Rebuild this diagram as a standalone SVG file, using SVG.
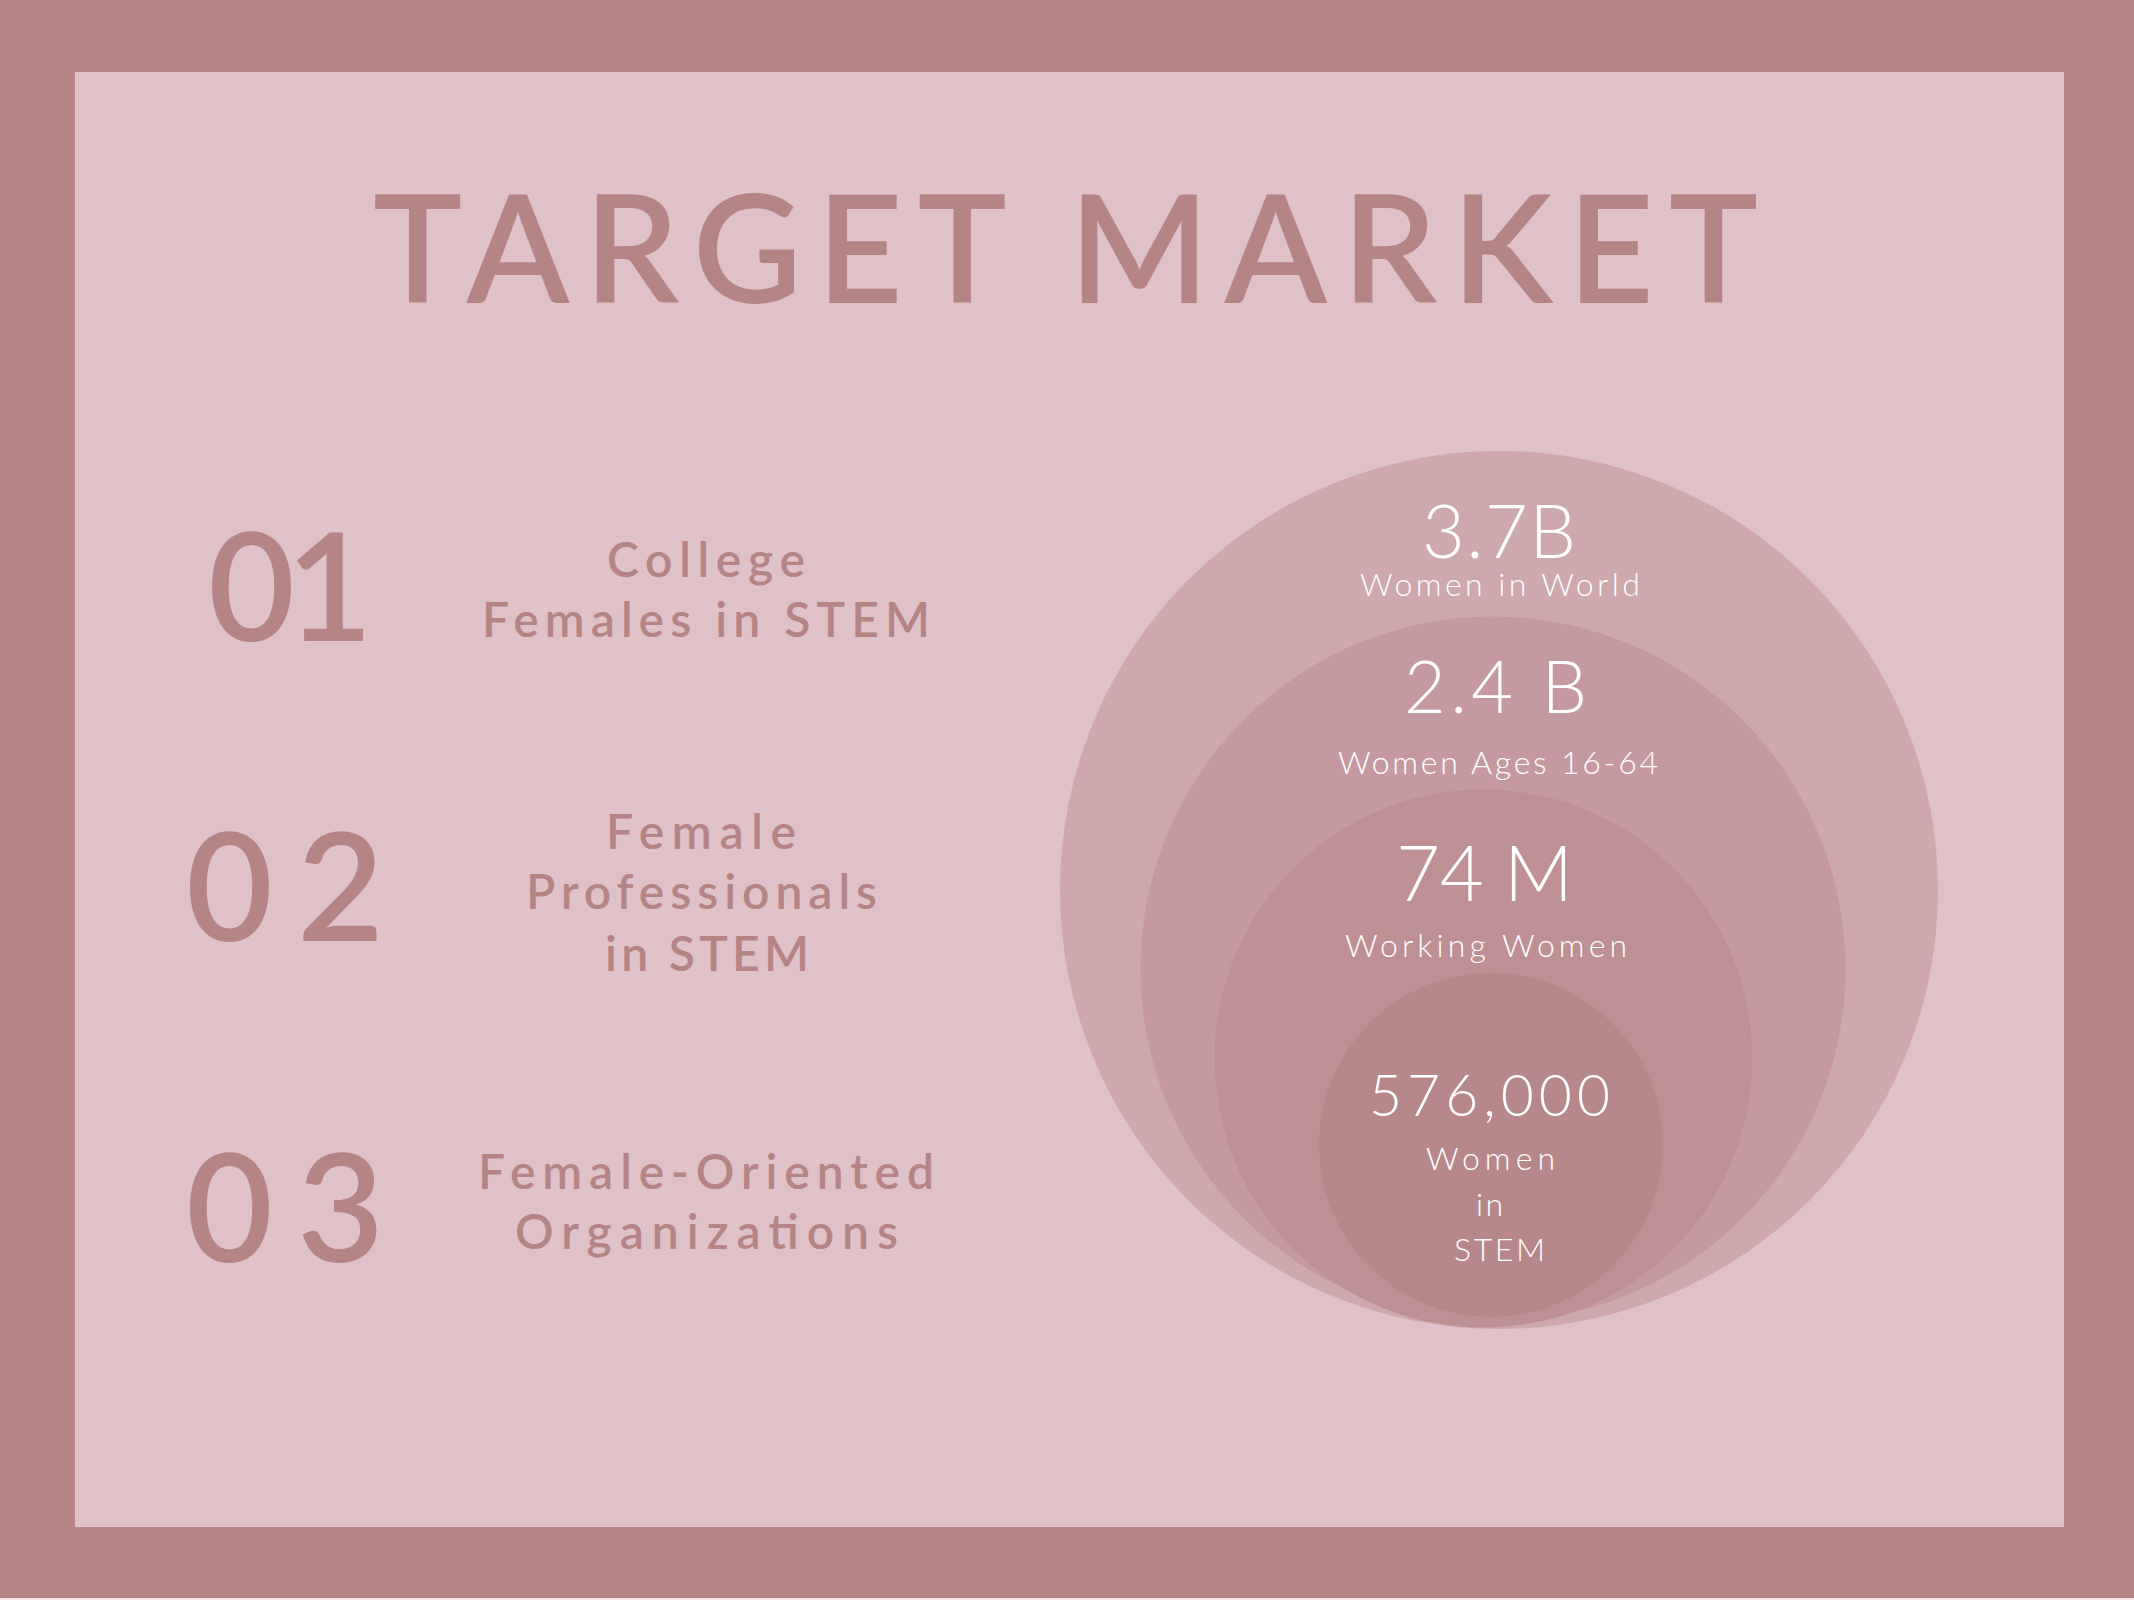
<svg xmlns="http://www.w3.org/2000/svg" width="2134" height="1600" viewBox="0 0 2134 1600">
<style>
.title{font-family:Lato,"Noto Sans","DejaVu Sans",sans-serif;font-weight:600;fill:#b48584;font-size:150px}
.num{font-family:Lato,"Noto Sans","DejaVu Sans",sans-serif;font-weight:600;fill:#b48584;font-size:150px}
.lab{font-family:Lato,"Noto Sans","DejaVu Sans",sans-serif;font-weight:600;fill:#b48584;font-size:48px}
.big{font-family:Lato,"Noto Sans","DejaVu Sans",sans-serif;font-weight:300;fill:#ffffff}
.sm{font-family:Lato,"Noto Sans","DejaVu Sans",sans-serif;font-weight:300;fill:#ffffff;font-size:32px}
</style>
<rect x="0" y="0" width="2134" height="1600" fill="#b48584"/>
<rect x="0" y="1598" width="2134" height="2" fill="#f3e9eb"/>
<rect x="75" y="72" width="1989" height="1455" fill="#dfc1c8"/>
<g id="title"><text class="title" x="373" y="303" textLength="1385" lengthAdjust="spacing">TARGET MARKET</text></g>
<g id="item1">
<text class="num" x="208" y="641" textLength="165" lengthAdjust="spacing">01</text>
<text class="lab" x="607" y="577" textLength="198" lengthAdjust="spacing">College</text>
<text class="lab" x="482" y="637" textLength="448" lengthAdjust="spacing">Females in STEM</text>
</g>
<g id="item2">
<text class="num" x="186" y="941" textLength="198" lengthAdjust="spacing">02</text>
<text class="lab" x="606" y="849" textLength="190" lengthAdjust="spacing">Female</text>
<text class="lab" x="526" y="909" textLength="351" lengthAdjust="spacing">Professionals</text>
<text class="lab" x="605" y="971" textLength="204" lengthAdjust="spacing">in STEM</text>
</g>
<g id="item3">
<text class="num" x="186" y="1262" textLength="198" lengthAdjust="spacing">03</text>
<text class="lab" x="478" y="1189" textLength="456" lengthAdjust="spacing">Female-Oriented</text>
<text class="lab" x="515" y="1249" textLength="383" lengthAdjust="spacing">Organizations</text>
</g>
<g id="circle-world">
<circle cx="1499" cy="890" r="439" fill="#cda8ad"/>
</g>
<g id="circle-ages">
<circle cx="1493" cy="969" r="352.5" fill="#c49aa0"/>
</g>
<g id="circle-working">
<circle cx="1483.5" cy="1058.5" r="269" fill="#bd9093"/>
</g>
<g id="circle-stem">
<circle cx="1491" cy="1145" r="172" fill="#b68889"/>
</g>
<g id="labels-circles">
<text class="big" x="1422" y="558" font-size="74" textLength="154" lengthAdjust="spacing">3.7B</text>
<text class="sm" x="1360" y="596" textLength="280" lengthAdjust="spacing">Women in World</text>
<text class="big" x="1404" y="713" font-size="72" textLength="183" lengthAdjust="spacing">2.4 B</text>
<text class="sm" x="1338" y="774" textLength="320" lengthAdjust="spacing">Women Ages 16-64</text>
<text class="big" x="1396" y="901" font-size="76" textLength="177" lengthAdjust="spacing">74 M</text>
<text class="sm" x="1345" y="957" textLength="282" lengthAdjust="spacing">Working Women</text>
<text class="big" x="1369" y="1116" font-size="57" textLength="241" lengthAdjust="spacing">576,000</text>
<text class="sm" x="1426" y="1170" font-size="29" textLength="129" lengthAdjust="spacing">Women</text>
<text class="sm" x="1476" y="1216" font-size="29" textLength="27" lengthAdjust="spacing">in</text>
<text class="sm" x="1454" y="1261" font-size="29" textLength="91" lengthAdjust="spacing">STEM</text>
</g>
</svg>
